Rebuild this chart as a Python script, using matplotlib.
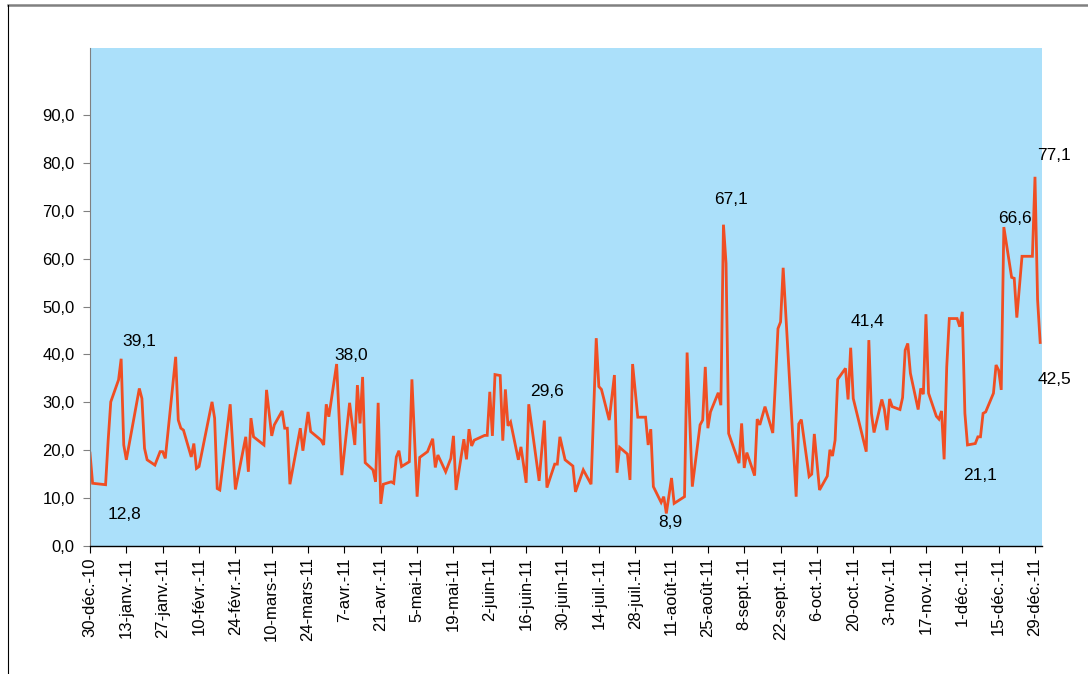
import numpy as np
import pandas as pd
import matplotlib
matplotlib.use("Agg")
import matplotlib.pyplot as plt
from matplotlib.lines import Line2D
from matplotlib.ticker import FuncFormatter

plt.rcParams['font.family'] = ['Liberation Sans', 'DejaVu Sans']

# daily series, 30 dec 2010 -> 31 dec 2011
dates = [
    '2010-12-30', '2010-12-31', '2011-01-05', '2011-01-06', '2011-01-07', '2011-01-10',
    '2011-01-11', '2011-01-12', '2011-01-13', '2011-01-18', '2011-01-19', '2011-01-20',
    '2011-01-21', '2011-01-24', '2011-01-26', '2011-01-27', '2011-01-28', '2011-02-01',
    '2011-02-02', '2011-02-03', '2011-02-04', '2011-02-07', '2011-02-08', '2011-02-09',
    '2011-02-10', '2011-02-15', '2011-02-16', '2011-02-17', '2011-02-18', '2011-02-22',
    '2011-02-24', '2011-02-28', '2011-03-01', '2011-03-02', '2011-03-03', '2011-03-07',
    '2011-03-08', '2011-03-10', '2011-03-11', '2011-03-14', '2011-03-15', '2011-03-16',
    '2011-03-17', '2011-03-21', '2011-03-22', '2011-03-24', '2011-03-25', '2011-03-29',
    '2011-03-30', '2011-03-31', '2011-04-01', '2011-04-04', '2011-04-06', '2011-04-09',
    '2011-04-11', '2011-04-12', '2011-04-13', '2011-04-14', '2011-04-15', '2011-04-18',
    '2011-04-19', '2011-04-20', '2011-04-21', '2011-04-22', '2011-04-25', '2011-04-26',
    '2011-04-27', '2011-04-28', '2011-04-29', '2011-05-02', '2011-05-03', '2011-05-05',
    '2011-05-06', '2011-05-09', '2011-05-11', '2011-05-12', '2011-05-13', '2011-05-16',
    '2011-05-18', '2011-05-19', '2011-05-20', '2011-05-23', '2011-05-24', '2011-05-25',
    '2011-05-26', '2011-05-27', '2011-05-31', '2011-06-01', '2011-06-02', '2011-06-03',
    '2011-06-04', '2011-06-06', '2011-06-07', '2011-06-08', '2011-06-09', '2011-06-10',
    '2011-06-13', '2011-06-14', '2011-06-16', '2011-06-17', '2011-06-21', '2011-06-23',
    '2011-06-24', '2011-06-27', '2011-06-28', '2011-06-29', '2011-07-01', '2011-07-04',
    '2011-07-05', '2011-07-08', '2011-07-11', '2011-07-13', '2011-07-14', '2011-07-15',
    '2011-07-18', '2011-07-20', '2011-07-21', '2011-07-22', '2011-07-25', '2011-07-26',
    '2011-07-27', '2011-07-29', '2011-08-01', '2011-08-02', '2011-08-03', '2011-08-04',
    '2011-08-07', '2011-08-08', '2011-08-09', '2011-08-11', '2011-08-12', '2011-08-16',
    '2011-08-17', '2011-08-19', '2011-08-22', '2011-08-23', '2011-08-24', '2011-08-25',
    '2011-08-26', '2011-08-29', '2011-08-30', '2011-08-31', '2011-09-01', '2011-09-02',
    '2011-09-06', '2011-09-07', '2011-09-08', '2011-09-09', '2011-09-12', '2011-09-13',
    '2011-09-14', '2011-09-16', '2011-09-19', '2011-09-20', '2011-09-21', '2011-09-22',
    '2011-09-23', '2011-09-28', '2011-09-29', '2011-09-30', '2011-10-03', '2011-10-04',
    '2011-10-05', '2011-10-07', '2011-10-10', '2011-10-11', '2011-10-12', '2011-10-13',
    '2011-10-14', '2011-10-17', '2011-10-18', '2011-10-19', '2011-10-20', '2011-10-25',
    '2011-10-26', '2011-10-27', '2011-10-28', '2011-10-31', '2011-11-01', '2011-11-02',
    '2011-11-03', '2011-11-04', '2011-11-07', '2011-11-08', '2011-11-09', '2011-11-10',
    '2011-11-11', '2011-11-14', '2011-11-15', '2011-11-16', '2011-11-17', '2011-11-18',
    '2011-11-21', '2011-11-22', '2011-11-23', '2011-11-24', '2011-11-25', '2011-11-26',
    '2011-11-29', '2011-11-30', '2011-12-01', '2011-12-02', '2011-12-03', '2011-12-06',
    '2011-12-07', '2011-12-08', '2011-12-09', '2011-12-10', '2011-12-13', '2011-12-14',
    '2011-12-15', '2011-12-16', '2011-12-17', '2011-12-20', '2011-12-21', '2011-12-22',
    '2011-12-24', '2011-12-28', '2011-12-29', '2011-12-30', '2011-12-31',
]

values = [
    19.4, 13.1, 12.8, 22.1, 30.1, 34.7,
    39.1, 21.1, 18.0, 32.9, 30.8, 20.4,
    18.0, 16.9, 19.7, 19.7, 18.3, 39.5,
    26.3, 24.6, 24.2, 18.6, 21.4, 16.2,
    16.6, 30.1, 26.7, 12.0, 11.7, 29.6,
    11.8, 22.8, 15.5, 26.7, 22.8, 21.1,
    32.6, 23.0, 25.3, 28.2, 24.6, 24.6,
    12.9, 24.6, 19.9, 28.0, 23.9, 22.1,
    21.1, 29.6, 27.0, 38.0, 14.8, 29.9,
    21.1, 33.6, 25.6, 35.3, 17.4, 15.9,
    13.4, 29.9, 8.8, 12.9, 13.4, 13.1,
    18.6, 19.9, 16.6, 17.6, 34.8, 10.3,
    18.5, 19.7, 22.4, 16.4, 19.0, 15.5,
    18.3, 23.0, 11.7, 22.3, 18.1, 24.4,
    20.9, 22.1, 23.1, 23.1, 32.2, 23.0,
    35.8, 35.6, 22.0, 32.7, 25.1, 25.9,
    18.0, 20.7, 13.2, 29.6, 13.6, 26.2,
    12.2, 17.1, 17.1, 22.8, 18.0, 16.7,
    11.3, 15.9, 12.9, 43.4, 33.3, 32.7,
    26.3, 35.7, 15.3, 20.6, 19.2, 13.8,
    38.0, 26.9, 26.9, 21.1, 24.4, 12.4,
    9.1, 10.3, 6.8, 14.2, 8.9, 10.3,
    40.4, 12.4, 25.3, 26.3, 37.4, 24.6,
    28.0, 32.0, 29.4, 67.1, 59.0, 23.5,
    17.3, 25.6, 16.3, 19.5, 14.7, 26.5,
    25.3, 29.1, 23.6, 34.0, 45.4, 46.8,
    58.1, 10.3, 25.5, 26.4, 14.5, 15.0,
    23.4, 11.7, 14.6, 20.1, 18.8, 22.1,
    34.8, 37.1, 30.6, 41.4, 30.8, 19.7,
    43.0, 27.7, 23.7, 30.6, 28.5, 24.2,
    30.7, 29.1, 28.5, 31.0, 40.9, 42.3,
    36.1, 28.5, 32.9, 31.7, 48.4, 31.9,
    27.1, 26.5, 28.2, 18.1, 37.4, 47.5,
    47.5, 45.8, 48.9, 27.7, 21.1, 21.4,
    22.8, 22.8, 27.7, 28.0, 31.9, 37.8,
    36.7, 32.6, 66.6, 56.1, 55.9, 47.7,
    60.5, 60.5, 77.1, 51.4, 42.5,
]

tick_labels = [
    '30-déc.-10', '13-janv.-11', '27-janv.-11', '10-févr.-11', '24-févr.-11',
    '10-mars-11', '24-mars-11', '7-avr.-11', '21-avr.-11', '5-mai-11', '19-mai-11',
    '2-juin-11', '16-juin-11', '30-juin-11', '14-juil.-11', '28-juil.-11',
    '11-août-11', '25-août-11', '8-sept.-11', '22-sept.-11', '6-oct.-11',
    '20-oct.-11', '3-nov.-11', '17-nov.-11', '1-déc.-11', '15-déc.-11', '29-déc.-11',
]

# points carrying a value label
labelled = ['2011-01-05', '2011-01-11', '2011-04-04', '2011-06-17', '2011-08-12',
            '2011-08-31', '2011-10-19', '2011-12-03', '2011-12-17', '2011-12-29',
            '2011-12-31']
label_offsets = [(19, -30), (18, 17), (15, 9), (18, 13), (-4, -19),
                 (8, 25), (17, 26), (13, -31), (11, 9), (19, 21), (14, -37)]


def fr(v):
    return f"{v:.1f}".replace('.', ',')


x = pd.to_datetime(dates)
start = pd.Timestamp('2010-12-30')

fig = plt.figure(figsize=(10.88, 6.74), dpi=100)
ax = fig.add_axes([90 / 1088, 1 - 546 / 674, 952 / 1088, 498 / 674])
ax.set_facecolor('#ABE0FA')

ax.plot(x, values, color='#F04E23', lw=2.0, solid_joinstyle='miter')

ax.set_ylim(0, 104)
ax.set_yticks(np.arange(0, 91, 10))
ax.yaxis.set_major_formatter(FuncFormatter(lambda v, p: fr(v)))

ax.set_xlim(start, start + pd.Timedelta(days=366.7))
ticks = pd.date_range(start, periods=len(tick_labels), freq='14D')
ax.set_xticks(ticks)
ax.set_xticklabels(tick_labels, rotation=90, ha='center', va='top')

ax.tick_params(axis='both', labelsize=12, colors='black')
ax.tick_params(axis='y', length=5, width=0.8, pad=6, color='#808080')
ax.tick_params(axis='x', length=5, width=0.8, pad=3, color='black')

for side in ('top', 'right'):
    ax.spines[side].set_visible(False)
ax.spines['left'].set_color('#808080')
ax.spines['bottom'].set_color('black')
ax.spines['bottom'].set_linewidth(1.0)

lookup = dict(zip(dates, values))
for d, (dx, dy) in zip(labelled, label_offsets):
    v = lookup[d]
    ax.annotate(fr(v), (pd.Timestamp(d), v), xytext=(dx, dy),
                textcoords='offset pixels', ha='center', va='center',
                fontsize=12.5, annotation_clip=False)

# outer chart frame
fig.add_artist(Line2D([8 / 1088, 1], [1 - 5 / 674, 1 - 5 / 674],
                      transform=fig.transFigure, color='#808080', lw=1.8))
fig.add_artist(Line2D([8 / 1088, 8 / 1088], [0, 1 - 5 / 674],
                      transform=fig.transFigure, color='black', lw=0.8))

fig.savefig('out.png', dpi=100)
